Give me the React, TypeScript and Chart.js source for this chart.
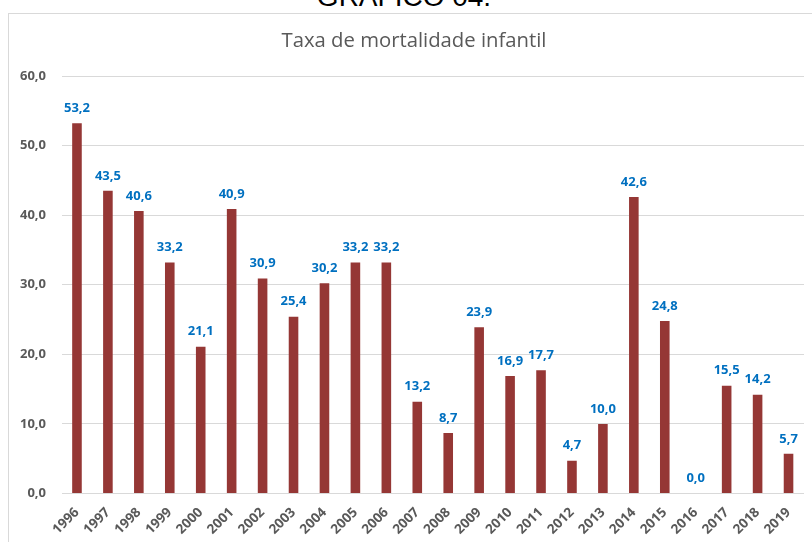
import React, { useEffect, useRef } from "react";
import { Chart, registerables } from "chart.js";

Chart.register(...registerables);

const years: string[] = [
  "1996", "1997", "1998", "1999", "2000", "2001", "2002", "2003", "2004", "2005", "2006", "2007",
  "2008", "2009", "2010", "2011", "2012", "2013", "2014", "2015", "2016", "2017", "2018", "2019",
];
const mortalityRate: number[] = [
  53.2, 43.5, 40.6, 33.2, 21.1, 40.9, 30.9, 25.4, 30.2, 33.2, 33.2, 13.2,
  8.7, 23.9, 16.9, 17.7, 4.7, 10.0, 42.6, 24.8, 0.0, 15.5, 14.2, 5.7,
];
const yTicks: number[] = [0, 10, 20, 30, 40, 50, 60];
const chartTitle = "Taxa de mortalidade infantil";
const pageHeading = "GRÁFICO 04.";

const fmt = (v: number) => v.toFixed(1).replace(".", ",");

const FONT = "'Open Sans', 'Noto Sans', sans-serif";

const dataLabelPlugin = {
  id: "dataLabels",
  afterDatasetsDraw(chart: any) {
    const ctx = chart.ctx;
    const meta = chart.getDatasetMeta(0);
    ctx.save();
    ctx.font = `bold 13px ${FONT}`;
    ctx.fillStyle = "#0070C0";
    ctx.textAlign = "center";
    ctx.textBaseline = "middle";
    meta.data.forEach((bar: any, i: number) => {
      const v = chart.data.datasets[0].data[i] as number;
      ctx.fillText(fmt(v), bar.x, bar.y - 15);
    });
    ctx.restore();
  },
};

const boxTitlePlugin = {
  id: "boxTitle",
  afterDraw(chart: any) {
    const ctx = chart.ctx;
    ctx.save();
    ctx.font = `normal 20.3px ${FONT}`;
    ctx.fillStyle = "#595959";
    ctx.textAlign = "center";
    ctx.textBaseline = "middle";
    ctx.fillText(chartTitle, 414, 41.5);
    ctx.restore();
  },
};

export default function App() {
  const canvasRef = useRef<HTMLCanvasElement | null>(null);

  useEffect(() => {
    if (!canvasRef.current) return;
    const chart = new Chart(canvasRef.current, {
      type: "bar",
      data: {
        labels: years,
        datasets: [
          {
            data: mortalityRate,
            backgroundColor: "#953735",
            borderWidth: 0,
            barPercentage: 0.31,
            categoryPercentage: 1,
          },
        ],
      },
      options: {
        animation: false,
        responsive: false,
        maintainAspectRatio: false,
        layout: { padding: { left: 0, right: 8, top: 76, bottom: 0 } },
        plugins: {
          legend: { display: false },
          tooltip: { enabled: false },
          title: { display: false },
        },
        scales: {
          x: {
            grid: { display: false, drawTicks: false },
            border: { display: false },
            ticks: {
              color: "#595959",
              font: { family: FONT, size: 13.5, weight: "bold" },
              minRotation: 45,
              maxRotation: 45,
              autoSkip: false,
              padding: 11,
            },
            afterFit(scale: any) {
              scale.height = 48.5;
            },
          },
          y: {
            min: 0,
            max: 60,
            afterBuildTicks(scale: any) {
              scale.ticks = yTicks.map((v) => ({ value: v }));
            },
            grid: { color: "#d9d9d9", lineWidth: 1, drawTicks: false },
            border: { display: false },
            ticks: {
              color: "#595959",
              font: { family: FONT, size: 13, weight: "bold" },
              padding: 15.5,
              callback: (v: any) => fmt(Number(v)),
            },
            afterFit(scale: any) {
              scale.width = 61.5;
            },
          },
        },
      },
      plugins: [dataLabelPlugin, boxTitlePlugin],
    });
    return () => chart.destroy();
  }, []);

  return (
    <div
      style={{
        position: "fixed",
        left: 0,
        top: 0,
        width: 812,
        height: 542,
        overflow: "hidden",
        background: "#ffffff",
      }}
    >
      <div
        style={{
          position: "absolute",
          left: 0,
          width: 808,
          top: -16.7,
          textAlign: "center",
          fontFamily: "'Liberation Sans', Arial, sans-serif",
          fontSize: 28,
          lineHeight: "28px",
          color: "#000000",
          whiteSpace: "nowrap",
        }}
      >
        {pageHeading}
      </div>
      <div
        style={{
          position: "absolute",
          left: 8,
          top: 13,
          width: 840,
          height: 600,
          border: "1px solid #d9d9d9",
          boxSizing: "border-box",
        }}
      />
      <canvas
        ref={canvasRef}
        width={812}
        height={542}
        style={{ position: "absolute", left: 0, top: 0, width: 812, height: 542 }}
      />
    </div>
  );
}
